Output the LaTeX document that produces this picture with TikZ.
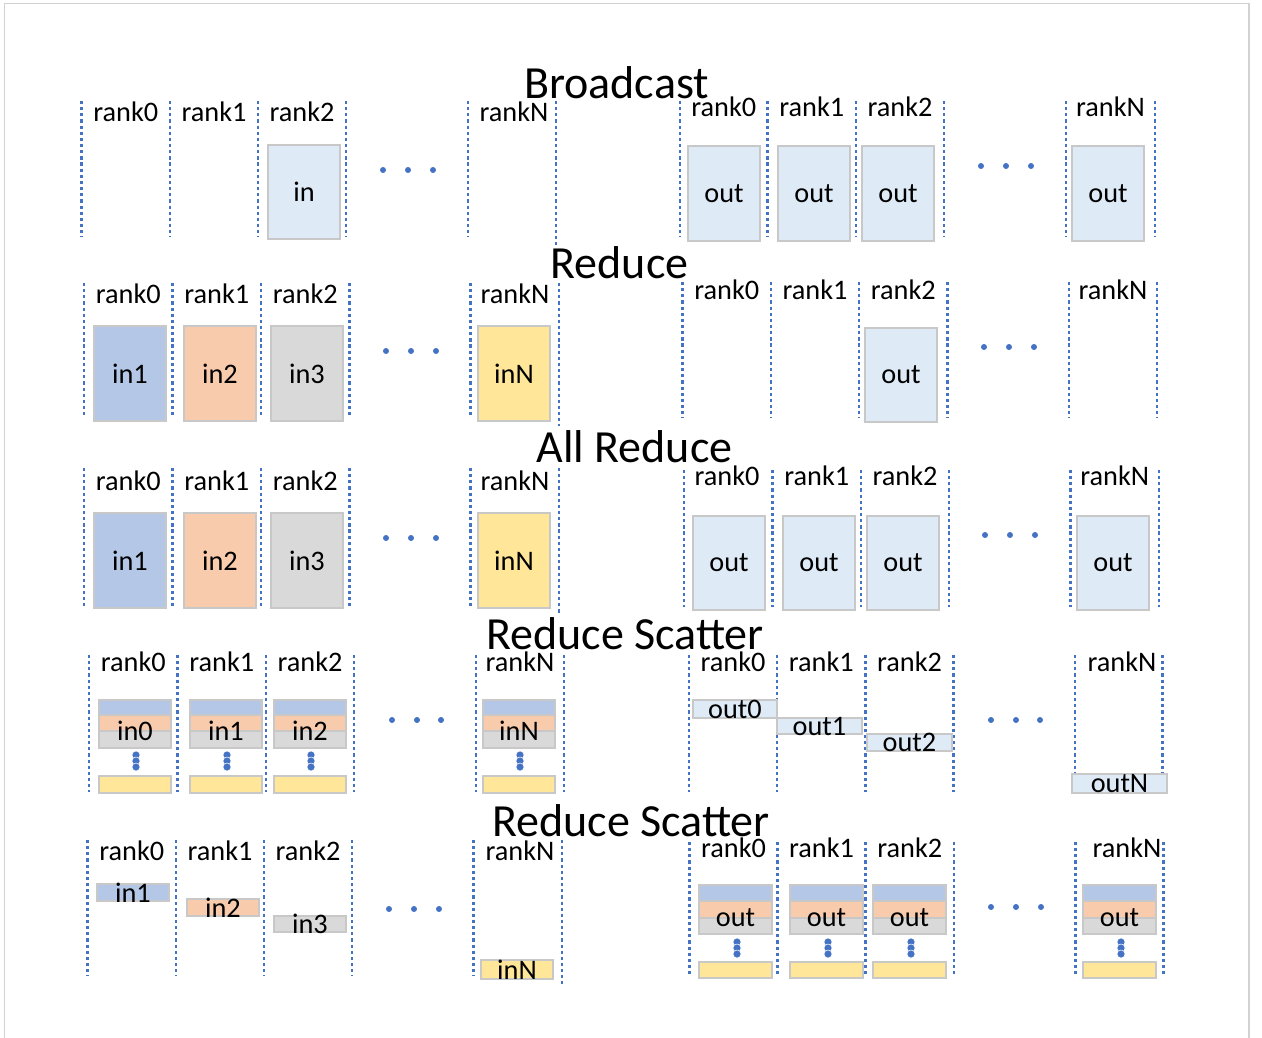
\documentclass[tikz,border=0pt]{standalone}
\usepackage{fontspec}
\setmainfont{Carlito}
\definecolor{rankline}{RGB}{68,114,196}
\definecolor{bufedge}{RGB}{200,200,200}
\definecolor{bufout}{RGB}{222,235,247}
\definecolor{bufblue}{RGB}{180,199,231}
\definecolor{buforange}{RGB}{248,203,173}
\definecolor{bufgray}{RGB}{217,217,217}
\definecolor{bufyellow}{RGB}{255,230,153}
\definecolor{pageedge}{RGB}{210,210,210}
\begin{document}
\begin{tikzpicture}[x=0.02cm,y=-0.02cm,
        sep/.style={rankline,line width=1.5pt,dash pattern=on 1.8pt off 1.7pt},
        buf/.style={draw=bufedge,line width=0.8pt},
        lbl/.style={anchor=base,inner sep=0pt,font=\fontsize{16.1}{18}\selectfont},
        txt/.style={inner sep=0pt,font=\fontsize{16.1}{18}\selectfont},
        ttl/.style={anchor=base,inner sep=0pt,font=\fontsize{26.2}{30}\selectfont}]
        \useasboundingbox (0,0) rectangle (1262,1038);
        \draw[pageedge,line width=0.9pt] (4.5,1038) -- (4.5,3.5) -- (1249,3.5) -- (1249,1038);

        \node[ttl] (bcast) at (616.5,98) {Broadcast};
        \foreach \x in {81.5,170,258,346,468,680,767.5,856,944,1066,1155}
            \draw[sep] (\x,101) -- (\x,237);
        \draw[sep] (556,101) -- (556,245);
        \foreach \x/\t [count=\i] in {125.75/rank0,214/rank1,302/rank2,514/rankN}
            \node[lbl] (bcast-src\i) at (\x,121.5) {\t};
        \foreach \x/\t [count=\i] in {723.75/rank0,811.75/rank1,900/rank2,1110.5/rankN}
            \node[lbl] (bcast-dst\i) at (\x,116.7) {\t};
        \draw[buf,fill=bufout] (268,145) rectangle (340,239);
        \node[txt] (bcast-in) at (304,192) {in};
        \foreach \a [count=\i] in {688,778,862,1072} {
            \draw[buf,fill=bufout] (\a,146) rectangle (\a+72,241);
            \node[txt] (bcast-out\i) at (\a+36,193.5) {out};
        }
        \foreach \x in {383,408,433} \fill[rankline] (\x,170) circle (3);
        \foreach \x in {981,1006,1031} \fill[rankline] (\x,166) circle (3);

        \node[ttl] (red) at (619.5,278.5) {Reduce};
        \foreach \x in {84,172.5,261,349.5,470.5}
            \draw[sep] (\x,283) -- (\x,418);
        \draw[sep] (559,283) -- (559,426);
        \foreach \x in {682.5,771,859,947.5,1069,1157}
            \draw[sep] (\x,282) -- (\x,418);
        \foreach \x/\t [count=\i] in {128.25/rank0,216.75/rank1,305.25/rank2,515/rankN}
            \node[lbl] (red-src\i) at (\x,303.3) {\t};
        \foreach \x/\t [count=\i] in {726.75/rank0,815/rank1,903.25/rank2,1113/rankN}
            \node[lbl] (red-dst\i) at (\x,299.3) {\t};
        \foreach \a/\f/\t [count=\i] in {94/bufblue/in1,184/buforange/in2,271/bufgray/in3,478/bufyellow/inN} {
            \draw[buf,fill=\f] (\a,326) rectangle (\a+72,421);
            \node[txt] (red-in\i) at (\a+36,373.5) {\t};
        }
        \draw[buf,fill=bufout] (865,328) rectangle (937,422);
        \node[txt] (red-out) at (901,375) {out};
        \foreach \x in {386,411,436} \fill[rankline] (\x,351) circle (3);
        \foreach \x in {984,1009,1034} \fill[rankline] (\x,347) circle (3);

        \node[ttl] (allred) at (634.5,462) {All Reduce};
        \foreach \x in {84,172.5,261,349.5,470.5}
            \draw[sep] (\x,468) -- (\x,607);
        \draw[sep] (559,468) -- (559,613);
        \foreach \x in {684,772.5,861,949,1070.5,1159}
            \draw[sep] (\x,470) -- (\x,607);
        \foreach \x/\t [count=\i] in {128.25/rank0,216.75/rank1,305.25/rank2,515/rankN}
            \node[lbl] (allred-src\i) at (\x,490) {\t};
        \foreach \x/\t [count=\i] in {727/rank0,816.75/rank1,905/rank2,1114.75/rankN}
            \node[lbl] (allred-dst\i) at (\x,485) {\t};
        \foreach \a/\f/\t [count=\i] in {94/bufblue/in1,184/buforange/in2,271/bufgray/in3,478/bufyellow/inN} {
            \draw[buf,fill=\f] (\a,513) rectangle (\a+72,608);
            \node[txt] (allred-in\i) at (\a+36,560.5) {\t};
        }
        \foreach \a [count=\i] in {693,783,867,1077} {
            \draw[buf,fill=bufout] (\a,516) rectangle (\a+72,610);
            \node[txt] (allred-out\i) at (\a+36,563) {out};
        }
        \foreach \x in {386,411,436} \fill[rankline] (\x,538) circle (3);
        \foreach \x in {985,1010,1035} \fill[rankline] (\x,535) circle (3);

        \node[ttl] (rscat) at (625,649) {Reduce Scatter};
        \foreach \x in {89,177.5,266,354,476,564,689,777,865.5,953.5}
            \draw[sep] (\x,655) -- (\x,792);
        \foreach \x in {1075,1162.5}
            \draw[sep] (\x,655) -- (\x,773);
        \foreach \x/\t [count=\i] in {133.25/rank0,221.75/rank1,310/rank2,520/rankN}
            \node[lbl] (rscat-src\i) at (\x,671.7) {\t};
        \foreach \x/\t [count=\i] in {733/rank0,821.25/rank1,909.5/rank2,1122/rankN}
            \node[lbl] (rscat-dst\i) at (\x,671.7) {\t};
        \foreach \a/\t [count=\i] in {99/in0,190/in1,274/in2,483/inN} {
            \draw[buf,fill=bufblue] (\a,700) rectangle (\a+72,715);
            \draw[buf,fill=buforange] (\a,715) rectangle (\a+72,731);
            \draw[buf,fill=bufgray] (\a,731) rectangle (\a+72,748);
            \node[txt] (rscat-in\i) at (\a+36,731) {\t};
            \foreach \y in {755,761,767}
                \filldraw[fill=rankline,draw=white,line width=0.3pt] (\a+37,\y) circle (4);
            \draw[buf,fill=bufyellow] (\a,776) rectangle (\a+72,793);
        }
        \foreach \a/\b/\c/\d/\t [count=\i] in {693/700/777/718/out0,777/718/862/734/out1,867/734/952/751/out2,1072/774/1167/793/outN} {
            \draw[buf,fill=bufout] (\a,\b) rectangle (\c,\d);
            \node[txt] (rscat-out\i) at ({(\a+\c)/2},{(\b+\d)/2}) {\t};
        }
        \foreach \x in {392,417,441} \fill[rankline] (\x,720) circle (3);
        \foreach \x in {991,1016,1040} \fill[rankline] (\x,720) circle (3);

        \node[ttl] (rscat2) at (631,836) {Reduce Scatter};
        \foreach \x in {87.5,176,264,352,473.5}
            \draw[sep] (\x,840) -- (\x,976);
        \draw[sep] (562,840) -- (562,984);
        \foreach \x in {689.5,777.5,865.5,954,1075.5,1163.5}
            \draw[sep] (\x,842) -- (\x,977);
        \foreach \x/\t [count=\i] in {131.75/rank0,220/rank1,308/rank2,520/rankN}
            \node[lbl] (rscat2-src\i) at (\x,860.7) {\t};
        \foreach \x/\t [count=\i] in {733.5/rank0,821.5/rank1,909.75/rank2,1127/rankN}
            \node[lbl] (rscat2-dst\i) at (\x,857.7) {\t};
        \foreach \a/\b/\c/\d/\f/\t [count=\i] in {97/884/169/901/bufblue/in1,187/899/259/916/buforange/in2,274/916/346/932/bufgray/in3,481/960/553/979/bufyellow/inN} {
            \draw[buf,fill=\f] (\a,\b) rectangle (\c,\d);
            \node[txt] (rscat2-in\i) at ({(\a+\c)/2},{(\b+\d)/2}) {\t};
        }
        \foreach \a [count=\i] in {699,790,873,1083} {
            \draw[buf,fill=bufblue] (\a,885) rectangle (\a+73,901);
            \draw[buf,fill=buforange] (\a,901) rectangle (\a+73,918);
            \draw[buf,fill=bufgray] (\a,918) rectangle (\a+73,934);
            \node[txt] (rscat2-out\i) at (\a+36.5,918) {out};
            \foreach \y in {942,948,954}
                \filldraw[fill=rankline,draw=white,line width=0.3pt] (\a+38,\y) circle (4);
            \draw[buf,fill=bufyellow] (\a,962) rectangle (\a+73,978);
        }
        \foreach \x in {389,414,439} \fill[rankline] (\x,909) circle (3);
        \foreach \x in {991,1016,1041} \fill[rankline] (\x,907) circle (3);
    \end{tikzpicture}
\end{document}
